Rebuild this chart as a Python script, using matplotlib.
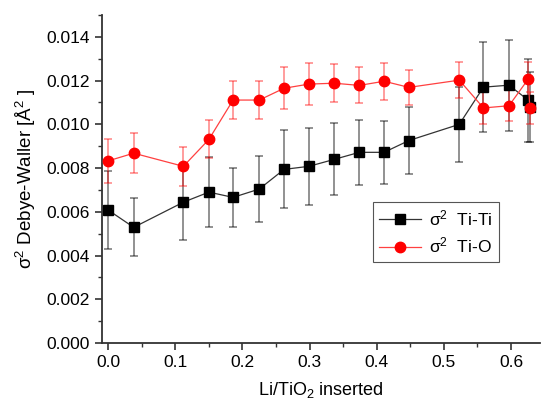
import matplotlib
matplotlib.use('Agg')
import matplotlib.pyplot as plt
from matplotlib.ticker import MultipleLocator

plt.rcParams['font.family'] = ['Liberation Sans', 'DejaVu Sans']
plt.rcParams['mathtext.fontset'] = 'custom'
plt.rcParams['mathtext.rm'] = 'Liberation Sans'
plt.rcParams['mathtext.it'] = 'Liberation Sans:italic'

# Li/TiO2 inserted
x = [0.0, 0.038, 0.112, 0.150, 0.186, 0.225, 0.262, 0.299, 0.337,
     0.374, 0.411, 0.448, 0.523, 0.559, 0.597, 0.626, 0.628]

# sigma^2 Ti-Ti
titi = [0.00608, 0.00529, 0.00644, 0.00690, 0.00666, 0.00704, 0.00794, 0.00808, 0.00840,
        0.00872, 0.00872, 0.00926, 0.01000, 0.01170, 0.01179, 0.01110, 0.01080]
titi_err = [0.00180, 0.00133, 0.00173, 0.00160, 0.00135, 0.00150, 0.00178, 0.00176, 0.00165,
            0.00150, 0.00143, 0.00155, 0.00170, 0.00207, 0.00208, 0.00190, 0.00160]

# sigma^2 Ti-O
tio = [0.00833, 0.00868, 0.00808, 0.00931, 0.01111, 0.01111, 0.01165, 0.01184, 0.01188,
       0.01178, 0.01197, 0.01169, 0.01202, 0.01075, 0.01085, 0.01208, 0.01073]
tio_err = [0.00099, 0.00091, 0.00089, 0.00087, 0.00086, 0.00086, 0.00095, 0.00095, 0.00088,
           0.00082, 0.00084, 0.00081, 0.00083, 0.00075, 0.00070, 0.00078, 0.00073]

fig = plt.figure(figsize=(5.42, 4.05), dpi=100)
ax = fig.add_axes([0.188, 0.153, 0.808, 0.810])

ax.errorbar(x, titi, yerr=titi_err, fmt='none', ecolor='black', alpha=0.5,
            elinewidth=1.2, capsize=3, capthick=1.2)
ax.plot(x, titi, color='#333333', lw=0.9, marker='s', ms=6.5,
        mfc='black', mec='black', label='σ$^2$  Ti-Ti', zorder=3)

ax.errorbar(x, tio, yerr=tio_err, fmt='none', ecolor='red', alpha=0.45,
            elinewidth=1.2, capsize=3, capthick=1.2)
ax.plot(x, tio, color='#ff4040', lw=0.9, marker='o', ms=7.5,
        mfc='red', mec='red', label='σ$^2$  Ti-O', zorder=3)

ax.set_xlim(-0.0094, 0.643)
ax.set_ylim(0, 0.015)
ax.xaxis.set_major_locator(MultipleLocator(0.1))
ax.xaxis.set_minor_locator(MultipleLocator(0.05))
ax.yaxis.set_major_locator(MultipleLocator(0.002))
ax.yaxis.set_minor_locator(MultipleLocator(0.001))
ax.xaxis.set_major_formatter(lambda v, p: '%.1f' % v)
ax.yaxis.set_major_formatter(lambda v, p: '%.3f' % v)

for s in ['top', 'right']:
    ax.spines[s].set_visible(False)
for s in ['left', 'bottom']:
    ax.spines[s].set_linewidth(1.3)
    ax.spines[s].set_color('#333333')
ax.tick_params(which='major', direction='out', length=5, width=1.2, labelsize=12.5,
               color='#333333')
ax.tick_params(which='minor', direction='out', length=3, width=1.0, color='#333333')

ax.set_xlabel('Li/TiO$_2$ inserted', fontsize=13, labelpad=7)
ax.set_ylabel('σ$^2$ Debye-Waller [Å$^2$ ]', fontsize=13.5, labelpad=6)

leg = ax.legend(loc='upper left', bbox_to_anchor=(0.619, 0.43), fontsize=12.5,
                fancybox=False, framealpha=1, edgecolor='#555555',
                handlelength=2.4, handletextpad=0.5, borderpad=0.35,
                labelspacing=0.45, borderaxespad=0)
leg.get_frame().set_linewidth(0.8)

fig.savefig('out.png', dpi=100)
